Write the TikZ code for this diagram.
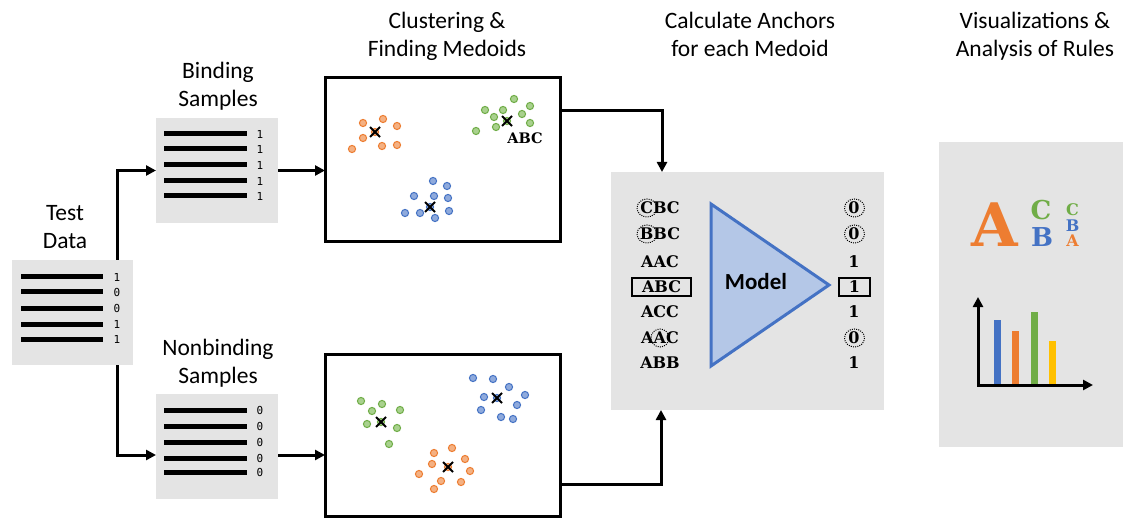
\documentclass[tikz,border=0pt]{standalone}
\usepackage{fontspec}
\setmainfont{Carlito}
\newfontfamily\slabfont{DejaVu Serif}
\newfontfamily\digitfont{DejaVu Sans Mono}
\usetikzlibrary{arrows.meta}

\definecolor{panelgray}{RGB}{228,228,228}
\definecolor{orangeline}{RGB}{237,125,49}
\definecolor{orangefill}{RGB}{244,177,131}
\definecolor{greenline}{RGB}{112,173,71}
\definecolor{greenfill}{RGB}{169,209,142}
\definecolor{blueline}{RGB}{68,114,196}
\definecolor{bluefill}{RGB}{143,170,220}
\definecolor{modelfill}{RGB}{180,199,231}
\definecolor{barGold}{RGB}{255,192,0}

\begin{document}
\begin{tikzpicture}[x=1pt,y=-1pt,
  panelbox/.style={fill=panelgray, inner sep=0pt, outer sep=0pt, anchor=north west},
  framebox/.style={draw=black, line width=3pt, fill=white, inner sep=0pt, outer sep=0pt, anchor=north west},
  caption/.style={align=center, inner sep=0pt, font=\fontsize{23.5}{28}\selectfont},
  samplebar/.style={line width=5pt},
  label digit/.style={inner sep=0pt, font=\digitfont\fontsize{11}{11}\selectfont},
  link/.style={line width=3pt, -{Triangle[length=10pt,width=10pt]}},
  seq/.style={inner sep=0pt, font=\slabfont\bfseries\fontsize{16}{16}\selectfont},
  ring/.style={line width=1pt, dash pattern=on 1pt off 1.2pt},
  dotO/.style={fill=orangefill, draw=orangeline, line width=1pt},
  dotG/.style={fill=greenfill, draw=greenline, line width=1pt},
  dotB/.style={fill=bluefill, draw=blueline, line width=1pt},
  medoid/.style={line width=2pt, black},
  logo/.style={inner sep=0pt, anchor=base, font=\slabfont\bfseries}
]
\useasboundingbox (0,0) rectangle (1123,518);

% ---------- captions ----------
\node[caption] (capTest) at (65,227) {Test\\Data};
\node[caption] (capBind) at (218,86) {Binding\\Samples};
\node[caption] (capNon) at (218,363) {Nonbinding\\Samples};
\node[caption] (capClus) at (447,36) {Clustering \&\\Finding Medoids};
\node[caption] (capAnch) at (750,34) {Calculate Anchors\\for each Medoid};
\node[caption] (capVis) at (1035,36) {Visualizations \&\\Analysis of Rules};

% ---------- sample lists ----------
\node[panelbox, minimum width=121pt, minimum height=105pt] (test) at (12,260) {};
\foreach \yy/\d in {277/1,292/0,308/0,324/1,339/1} {
  \draw[samplebar] (21,\yy) -- (103,\yy);
  \node[label digit] at (117,\yy) {\d};
}
\node[panelbox, minimum width=122pt, minimum height=105pt] (bind) at (156,118) {};
\foreach \yy in {134,149,165,181,196} {
  \draw[samplebar] (164,\yy) -- (247,\yy);
  \node[label digit] at (260,\yy) {1};
}
\node[panelbox, minimum width=122pt, minimum height=105pt] (nonb) at (156,394) {};
\foreach \yy in {410,426,442,458,472} {
  \draw[samplebar] (164,\yy) -- (247,\yy);
  \node[label digit] at (260,\yy) {0};
}

% ---------- cluster frames ----------
\node[framebox, minimum width=235pt, minimum height=164pt] (clusA) at (325,78) {};
\node[framebox, minimum width=235pt, minimum height=162pt] (clusB) at (325,354) {};

% binding clusters
\foreach \p in {(363,123),(383,119),(397,126),(363,138),(352,149),(382,146),(397,145),(375,132)}
  \draw[dotO] \p circle (3.6);
\foreach \p in {(514,99),(485,110),(503,110),(530,106),(494,117),(522,114),(530,123),(496,127),(476,131),(507,121)}
  \draw[dotG] \p circle (3.6);
\foreach \p in {(433,181),(447,186),(414,196),(434,196),(448,198),(405,213),(420,213),(435,218),(449,211),(430,207)}
  \draw[dotB] \p circle (3.6);
\foreach \cx/\cy in {375/132,507/121,430/207}
  \draw[medoid] (\cx-5,\cy-5) -- (\cx+5,\cy+5) (\cx-5,\cy+5) -- (\cx+5,\cy-5);
\node[seq, font=\slabfont\bfseries\fontsize{14.5}{14.5}\selectfont] (medoidLabel) at (525,138) {ABC};

% nonbinding clusters
\foreach \p in {(473,378),(493,379),(509,387),(525,395),(484,397),(517,405),(481,410),(501,417),(513,419),(497,398)}
  \draw[dotB] \p circle (3.6);
\foreach \p in {(361,401),(382,404),(372,411),(400,410),(367,424),(397,428),(389,444),(381,422)}
  \draw[dotG] \p circle (3.6);
\foreach \p in {(452,448),(434,453),(465,459),(432,464),(470,471),(419,474),(441,481),(461,482),(434,489),(448,467)}
  \draw[dotO] \p circle (3.6);
\foreach \cx/\cy in {497/398,381/422,448/467}
  \draw[medoid] (\cx-5,\cy-5) -- (\cx+5,\cy+5) (\cx-5,\cy+5) -- (\cx+5,\cy-5);

% ---------- anchor model ----------
\node[panelbox, minimum width=273pt, minimum height=238pt] (model) at (611,172) {};
\draw[draw=blueline, fill=modelfill, line width=3pt, line join=miter] (711,204) -- (711,366) -- (829,285) -- cycle;
\node[inner sep=0pt, font=\bfseries\fontsize{23}{23}\selectfont] (modelText) at (756,282) {Model};

\node[seq] (s1) at (660,208) {CBC};
\node[seq] (s2) at (660,234) {BBC};
\node[seq] (s3) at (660,262) {AAC};
\node[seq, draw, line width=1.2pt, minimum width=59pt, minimum height=18pt] (s4) at (661.5,287) {ABC};
\node[seq] (s5) at (660,312) {ACC};
\node[seq] (s6) at (660,338) {AAC};
\node[seq] (s7) at (660,363) {ABB};
\draw[ring] (647,208) ellipse (10 and 9);
\draw[ring] (647,234) ellipse (10 and 9);
\draw[ring] (660,338) ellipse (9 and 9);

\node[seq] (o1) at (854,208) {0};
\node[seq] (o2) at (854,234) {0};
\node[seq] (o3) at (854,262) {1};
\node[seq, draw, line width=1.2pt, minimum width=31pt, minimum height=18pt] (o4) at (854.5,287) {1};
\node[seq] (o5) at (854,312) {1};
\node[seq] (o6) at (854,338) {0};
\node[seq] (o7) at (854,363) {1};
\draw[ring] (854.5,208) ellipse (10 and 9);
\draw[ring] (854.5,234) ellipse (10 and 9);
\draw[ring] (854.5,338) ellipse (10 and 9);

% ---------- visualisation panel ----------
\node[panelbox, minimum width=184pt, minimum height=305pt] (vis) at (939,142) {};
\node[logo, text=orangeline, font=\slabfont\bfseries\fontsize{60}{60}\selectfont] (bigA) at (995,247) {A};
\node[logo, text=greenline, font=\slabfont\bfseries\fontsize{26}{26}\selectfont] (bigC) at (1041,220) {C};
\node[logo, text=blueline, font=\slabfont\bfseries\fontsize{26}{26}\selectfont] (bigB) at (1042,247) {B};
\node[logo, text=greenline, font=\slabfont\bfseries\fontsize{16}{16}\selectfont] (smC) at (1072.5,216) {C};
\node[logo, text=blueline, font=\slabfont\bfseries\fontsize{16}{16}\selectfont] (smB) at (1072.5,231.5) {B};
\node[logo, text=orangeline, font=\slabfont\bfseries\fontsize{16}{16}\selectfont] (smA) at (1072.5,247) {A};

\fill[blueline] (993.5,320) rectangle (1000.5,385);
\fill[orangeline] (1011.5,331) rectangle (1018.5,385);
\fill[greenline] (1030.5,312) rectangle (1037.5,385);
\fill[barGold] (1048.5,341) rectangle (1055.5,385);
\draw[line width=3pt, {Triangle[length=10pt,width=10pt]}-{Triangle[length=10pt,width=10pt]}]
  (978,297) -- (978,385) -- (1093,385);

% ---------- connectors ----------
\draw[link] ([xshift=105pt]test.north west) |- (bind.west);
\draw[link] ([xshift=105pt]test.south west) |- ([yshift=-8.5pt]nonb.west);
\draw[link] (bind.east) -- (bind.east -| clusA.west);
\draw[link] ([yshift=-8.5pt]nonb.east) -- ([yshift=-8.5pt]nonb.east -| clusB.west);
\draw[link] ([yshift=-33pt]clusA.north east) -| ([xshift=51pt]model.north west);
\draw[link] ([yshift=32pt]clusB.south east) -| ([xshift=50pt]model.south west);
\end{tikzpicture}
\end{document}
